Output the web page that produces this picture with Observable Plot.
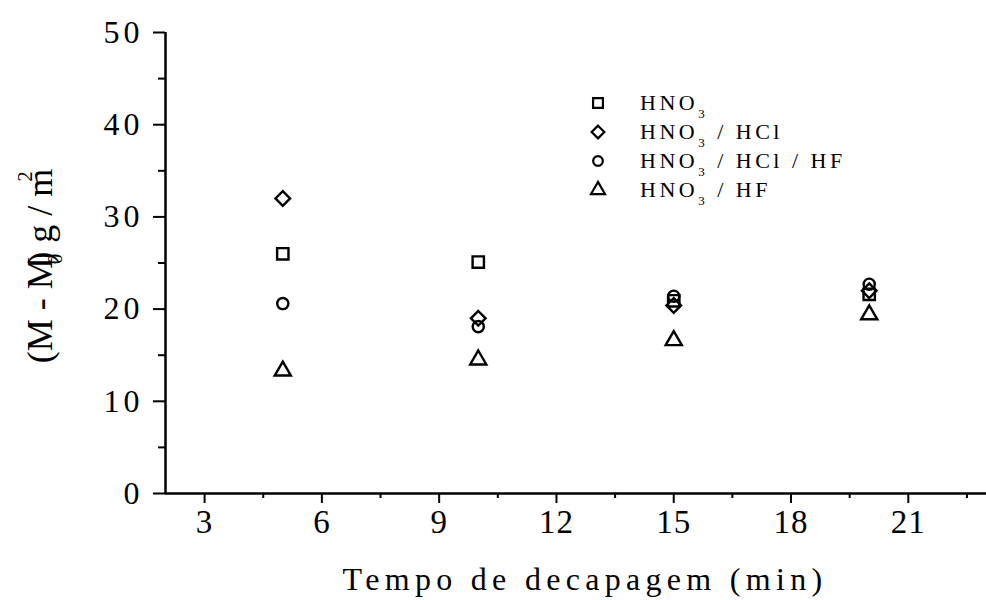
<!DOCTYPE html>
<html>
<head>
<meta charset="utf-8">
<script src="https://cdn.jsdelivr.net/npm/d3@7"></script>
<script src="https://cdn.jsdelivr.net/npm/@observablehq/plot@0.6"></script>
<style>
  html, body { margin: 0; padding: 0; background: #fff; }
  #chart { position: relative; width: 986px; height: 600px; }
  #chart svg { display: block; }
  [aria-label="y-axis tick label"] text { letter-spacing: 4px; }
  [aria-label="x-axis tick label"] text { letter-spacing: 1px; }
</style>
</head>
<body>
<div id="chart"></div>
<script>
// Pickling time (min) and mass change per area for each acid mixture
const times = [5, 10, 15, 20];
const hno3 = [26.0, 25.1, 20.9, 21.6];
const hno3Hcl = [32.0, 19.0, 20.4, 22.0];
const hno3HclHf = [20.6, 18.1, 21.4, 22.7];
const hno3Hf = [13.3, 14.5, 16.6, 19.4];

const seriesKeys = ["HNO3", "HNO3/HCl", "HNO3/HCl/HF", "HNO3/HF"];
const seriesValues = [hno3, hno3Hcl, hno3HclHf, hno3Hf];
const seriesSymbols = ["square", "diamond2", "circle", "triangle"];
const seriesRadius = [6.4, 6.6, 5.6, 6.0];
// legend text: main part, subscript, rest
const legendParts = [["HNO", "3", ""], ["HNO", "3", " / HCl"], ["HNO", "3", " / HCl / HF"], ["HNO", "3", " / HF"]];

const xTicks = [3, 6, 9, 12, 15, 18, 21];
const xMinorTicks = [4.5, 7.5, 10.5, 13.5, 16.5, 19.5, 22.5];
const yTicks = [0, 10, 20, 30, 40, 50];
const yMinorTicks = [5, 15, 25, 35, 45];

const points = seriesKeys.flatMap((key, i) =>
  times.map((t, j) => ({series: key, time: t, value: seriesValues[i][j]}))
);

const font = "'Liberation Serif', 'Times New Roman', serif";

const plot = Plot.plot({
  width: 986,
  height: 600,
  marginLeft: 165,
  marginRight: 0,
  marginTop: 32,
  marginBottom: 107,
  style: {fontFamily: font, background: "#fff", color: "#000"},
  x: {domain: [2, 23]},
  y: {domain: [0, 50]},
  marks: [
    Plot.axisX({ticks: xMinorTicks, tickSize: 5, text: null, strokeWidth: 2, label: null}),
    Plot.axisX({ticks: xTicks, tickSize: 10, tickPadding: 6, fontSize: 33, strokeWidth: 2, label: null}),
    Plot.axisY({ticks: yMinorTicks, tickSize: 7, text: null, strokeWidth: 2, label: null}),
    Plot.axisY({ticks: yTicks, tickSize: 12, tickPadding: 10, fontSize: 32, strokeWidth: 2, label: null}),
    Plot.ruleY([0], {stroke: "#000", strokeWidth: 2.5}),
    Plot.ruleX([2], {stroke: "#000", strokeWidth: 2.5}),
    ...seriesKeys.map((key, i) =>
      Plot.dot(points.filter(d => d.series === key), {
        x: "time",
        y: "value",
        symbol: () => seriesSymbols[i],
        r: seriesRadius[i],
        stroke: "#000",
        strokeWidth: 2.4,
        fill: "none"
      })
    )
  ]
});

document.getElementById("chart").append(plot);

const svg = d3.select(plot);

// x-axis title
svg.append("text")
  .attr("x", 585)
  .attr("y", 590)
  .attr("text-anchor", "middle")
  .attr("font-family", font)
  .attr("font-size", 32)
  .attr("letter-spacing", 5.3)
  .attr("fill", "#000")
  .text("Tempo de decapagem (min)");

// y-axis title: (M - M0) g / m²
const yt = svg.append("text")
  .attr("transform", "translate(52,266) rotate(-90)")
  .attr("text-anchor", "middle")
  .attr("font-family", font)
  .attr("font-size", 36)
  .attr("fill", "#000");
yt.append("tspan").text("(M - M");
yt.append("tspan").attr("font-size", 21).attr("dx", -7).attr("dy", 10).text("0");
yt.append("tspan").attr("dx", -10).attr("dy", -10).text(")");
yt.append("tspan").text(" g / m");
yt.append("tspan").attr("font-size", 21).attr("dx", -13).attr("dy", -20).text("2");

// legend
const legend = svg.append("g").attr("fill", "#000").attr("text-anchor", "start");
seriesKeys.forEach((key, i) => {
  const cy = 103 + i * 29;
  const size = Math.PI * seriesRadius[i] * seriesRadius[i];
  const sym = {square: d3.symbolSquare, diamond2: d3.symbolDiamond2, circle: d3.symbolCircle, triangle: d3.symbolTriangle}[seriesSymbols[i]];
  legend.append("path")
    .attr("transform", `translate(598,${cy})`)
    .attr("d", d3.symbol(sym, size * 0.75)())
    .attr("fill", "none")
    .attr("stroke", "#000")
    .attr("stroke-width", 2.2);
  const t = legend.append("text")
    .attr("x", 640)
    .attr("y", cy + 7)
    .attr("text-anchor", "start")
    .attr("font-family", font)
    .attr("font-size", 22)
    .attr("letter-spacing", 3.5);
  const [main, sub, rest] = legendParts[i];
  t.append("tspan").text(main);
  t.append("tspan").attr("font-size", 13).attr("dy", 8).text(sub);
  if (rest) t.append("tspan").attr("dy", -8).text(rest);
});
</script>
</body>
</html>
